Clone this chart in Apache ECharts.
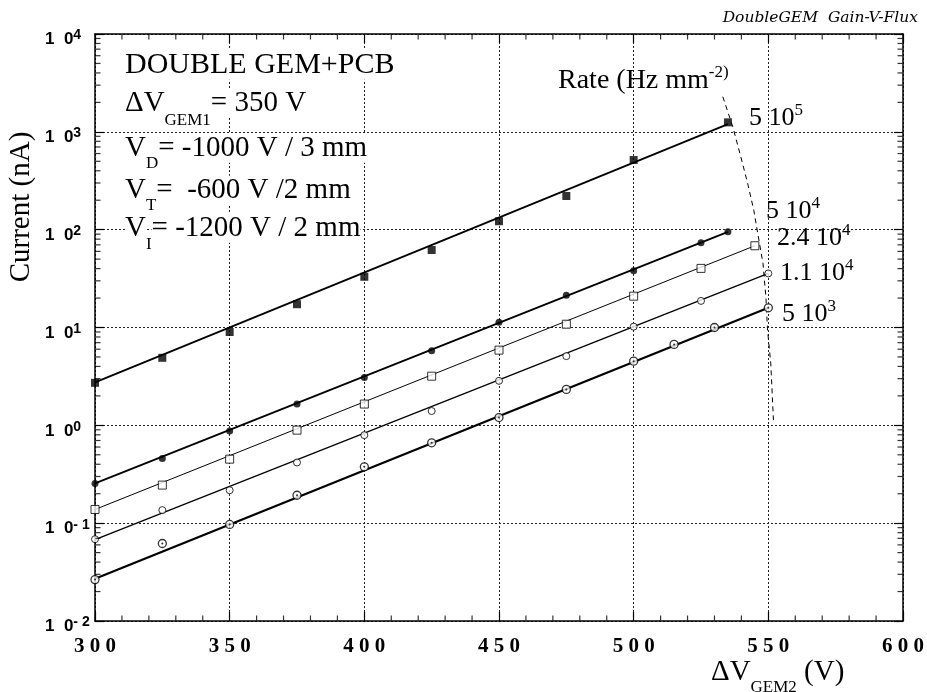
<!DOCTYPE html>
<html>
<head>
<meta charset="utf-8">
<script src="https://cdn.jsdelivr.net/npm/echarts@6/dist/echarts.min.js"></script>
<style>
html,body{margin:0;padding:0;background:#fff;}
#chart{width:927px;height:692px;}
</style>
</head>
<body>
<div id="chart"></div>
<script>
// ---- data ----
const s1X = [300, 325, 350, 375, 400, 425, 450, 475, 500, 535];
const s1Y = [2.72, 4.9, 9.0, 17.3, 33, 62, 122, 221, 515, 1250];
const s2X = [300, 325, 350, 375, 400, 425, 450, 475, 500, 525, 535];
const s2Y = [0.255, 0.458, 0.873, 1.65, 3.09, 5.78, 11.3, 21.3, 38, 73.5, 95];
const s3X = [300, 325, 350, 375, 400, 425, 450, 475, 500, 525, 545];
const s3Y = [0.138, 0.245, 0.451, 0.893, 1.65, 3.18, 5.87, 10.8, 20.9, 40.2, 68.5];
const s4X = [300, 325, 350, 375, 400, 425, 450, 475, 500, 525, 550];
const s4Y = [0.0686, 0.136, 0.217, 0.417, 0.794, 1.40, 2.85, 5.1, 10.2, 18.7, 35.7];
const s5X = [300, 325, 350, 375, 400, 425, 450, 475, 500, 515, 530, 550];
const s5Y = [0.0265, 0.062, 0.097, 0.193, 0.377, 0.663, 1.2, 2.33, 4.53, 6.72, 10.0, 15.9];

// fitted straight lines (end points)
const fit1 = [[300, 2.75], [535, 1200]];
const fit2 = [[300, 0.255], [535, 95]];
const fit3 = [[300, 0.138], [545, 68.5]];
const fit4 = [[300, 0.068], [550, 35.7]];
const fit5 = [[300, 0.027], [550, 15.9]];

// dashed "rate" guide curve
const rateX = [533.1, 536.8, 539.9, 542.3, 544.6, 546.5, 548.0, 549.1, 549.7, 550.9, 551.9];
const rateY = [2285, 1127, 540, 299, 158, 78.3, 45.5, 20.5, 9.4, 4.32, 1.13];

// axis
const xMin = 300, xMax = 600, xStep = 50, xMinorStep = 10;
const yMin = 0.01, yMax = 10000;
const minorMantissas = [2, 3, 4, 5, 6, 7, 8, 9];
const decades = [-2, -1, 0, 1, 2, 3];

const zip = (xs, ys) => xs.map((x, i) => [x, ys[i]]);

// ---- text helpers ----
const mctx = document.createElement('canvas').getContext('2d');
function mk(x, base, parts, bg) {
  const els = [];
  let cx = x;
  for (const p of parts) {
    const [t, size, dy, fam, weight] = p;
    const family = fam || '"Liberation Serif"';
    const font = (weight || 'normal') + ' ' + size + 'px ' + family;
    mctx.font = font;
    const w = mctx.measureText(t).width;
    const style = { text: t, x: cx, y: base + dy - 0.34 * size, font: font, fill: '#000', align: 'left', verticalAlign: 'middle' };
    if (bg) { style.backgroundColor = '#fff'; }
    els.push({ type: 'text', z: 100, silent: true, style: style });
    cx += w;
  }
  return els;
}

const SZ = 29, SUB = 17;
let graphics = [];
graphics = graphics.concat(mk(125, 75, [['DOUBLE GEM+PCB', 30, 0]], true));
graphics = graphics.concat(mk(125, 113, [['\u0394V', SZ, 0], ['GEM1', SUB, 13], ['= 350 V', SZ, 0]], true));
graphics = graphics.concat(mk(125, 158, [['V', SZ, 0], ['D', SUB, 11], ['= -1000 V / 3 mm', SZ, 0]], true));
graphics = graphics.concat(mk(125, 200, [['V', SZ, 0], ['T', SUB, 11], ['=  -600 V /2 mm', SZ, 0]], true));
graphics = graphics.concat(mk(125, 238, [['V', SZ, 0], ['I', SUB, 12], ['= -1200 V / 2 mm', SZ, 0]], true));

graphics = graphics.concat(mk(558, 90, [['Rate (Hz mm', 28, 0], ['-2)', SUB, -12]]));
graphics = graphics.concat(mk(749, 127, [['5 10', 26, 0], ['5', SUB, -11]]));
graphics = graphics.concat(mk(766, 220, [['5 10', 26, 0], ['4', SUB, -11]]));
graphics = graphics.concat(mk(777, 247, [['2.4 10', 26, 0], ['4', SUB, -11]]));
graphics = graphics.concat(mk(780, 282, [['1.1 10', 26, 0], ['4', SUB, -11]]));
graphics = graphics.concat(mk(782, 323, [['5 10', 26, 0], ['3', SUB, -11]]));

// x axis title
graphics = graphics.concat(mk(711, 682, [['\u0394V', 29, 0], ['GEM2', SUB, 11], [' (V)', 29, 0]]));
// y axis title (rotated)
graphics.push({
  type: 'text', z: 100, silent: true, x: 21, y: 207, rotation: Math.PI / 2,
  style: { text: 'Current (nA)', x: 0, y: 0, font: 'normal 29px "Liberation Serif"', fill: '#000', align: 'center', verticalAlign: 'middle' }
});
// top-right tag
graphics.push({
  type: 'text', z: 100, silent: true,
  style: { text: 'DoubleGEM  Gain-V-Flux', x: 918, y: 18, font: 'italic 15.5px "DejaVu Serif"', fill: '#000', align: 'right', verticalAlign: 'middle' }
});

// minor y tick values (log decades)
const minorY = [];
decades.forEach(d => minorMantissas.forEach(m => minorY.push(m * Math.pow(10, d))));
// minor x tick values
const minorX = [];
for (let v = xMin + xMinorStep; v < xMax; v += xMinorStep) {
  if (v % xStep !== 0) minorX.push(v);
}

const gridLine = { show: true, lineStyle: { type: [2, 2], color: '#222', width: 1 } };
const axisLine = { show: true, onZero: false, lineStyle: { color: '#000', width: 1.5 } };
const tickMark = (data, size, offset) => ({
  type: 'scatter', data: data, symbol: 'rect', symbolSize: size, symbolOffset: offset,
  itemStyle: { color: '#000' }, silent: true, clip: false, z: 8
});

const chart = echarts.init(document.getElementById('chart'), null, { renderer: 'canvas' });
const option = {
  animation: false,
  backgroundColor: '#fff',
  grid: { left: 95, right: 19, top: 34, bottom: 71, containLabel: false },
  xAxis: [
    {
      type: 'value', min: xMin, max: xMax, interval: xStep, position: 'bottom',
      axisLine: axisLine,
      axisTick: { show: true, inside: true, length: 9, lineStyle: { color: '#000', width: 1.2 } },
      splitLine: gridLine,
      axisLabel: {
        margin: 15, color: '#000', fontFamily: 'Liberation Serif', fontWeight: 'bold', fontSize: 21,
        formatter: v => String(v).split('').join(' ')
      }
    },
    {
      type: 'value', min: xMin, max: xMax, interval: xStep, position: 'top',
      axisLine: axisLine,
      axisTick: { show: true, inside: true, length: 9, lineStyle: { color: '#000', width: 1.2 } },
      splitLine: { show: false },
      axisLabel: { show: false }
    }
  ],
  yAxis: [
    {
      type: 'log', logBase: 10, min: yMin, max: yMax, position: 'left',
      axisLine: axisLine,
      axisTick: { show: true, inside: true, length: 9, lineStyle: { color: '#000', width: 1.2 } },
      splitLine: gridLine,
      axisLabel: {
        margin: 50, align: 'left', padding: [11, 0, 0, 0], color: '#000',
        formatter: v => {
          const e = Math.round(Math.log10(v));
          const es = e >= 0 ? String(e) : '- ' + String(-e);
          return '{m|1  0}{e|' + es + '}';
        },
        rich: {
          m: { fontFamily: 'Liberation Sans', fontWeight: 'bold', fontSize: 17, lineHeight: 22, color: '#000' },
          e: { fontFamily: 'Liberation Sans', fontWeight: 'bold', fontSize: 14, lineHeight: 16, verticalAlign: 'top', color: '#000' }
        }
      }
    },
    {
      type: 'log', logBase: 10, min: yMin, max: yMax, position: 'right',
      axisLine: axisLine,
      axisTick: { show: true, inside: true, length: 9, lineStyle: { color: '#000', width: 1.2 } },
      splitLine: { show: false },
      axisLabel: { show: false }
    }
  ],
  graphic: graphics,
  series: [
    // minor ticks drawn as tiny marks placed through the axes
    tickMark(minorY.map(v => [xMin, v]), [5, 1.2], [3, 0]),
    tickMark(minorY.map(v => [xMax, v]), [5, 1.2], [-3, 0]),
    tickMark(minorX.map(v => [v, yMin]), [1.2, 5], [0, -3]),
    tickMark(minorX.map(v => [v, yMax]), [1.2, 5], [0, 3]),
    // fit lines
    { type: 'line', data: fit1, symbol: 'none', lineStyle: { color: '#000', width: 1.8 }, silent: true },
    { type: 'line', data: fit2, symbol: 'none', lineStyle: { color: '#000', width: 1.8 }, silent: true },
    { type: 'line', data: fit3, symbol: 'none', lineStyle: { color: '#000', width: 1 }, silent: true },
    { type: 'line', data: fit4, symbol: 'none', lineStyle: { color: '#000', width: 1.3 }, silent: true },
    { type: 'line', data: fit5, symbol: 'none', lineStyle: { color: '#000', width: 2.2 }, silent: true },
    // rate curve
    { type: 'line', data: zip(rateX, rateY), symbol: 'none', smooth: false, lineStyle: { color: '#000', width: 1, type: [5, 4] }, silent: true },
    // points
    { type: 'scatter', data: zip(s1X, s1Y), symbol: 'rect', symbolSize: 8, itemStyle: { color: '#000' }, z: 5 },
    { type: 'scatter', data: zip(s2X, s2Y), symbol: 'circle', symbolSize: 7, itemStyle: { color: '#000' }, z: 5 },
    { type: 'scatter', data: zip(s3X, s3Y), symbol: 'rect', symbolSize: 8, itemStyle: { color: '#fff', borderColor: '#000', borderWidth: 1 }, z: 5 },
    { type: 'scatter', data: zip(s4X, s4Y), symbol: 'circle', symbolSize: 7, itemStyle: { color: '#fff', borderColor: '#000', borderWidth: 1 }, z: 5 },
    { type: 'scatter', data: zip(s5X, s5Y), symbol: 'circle', symbolSize: 8, itemStyle: { color: '#fff', borderColor: '#000', borderWidth: 1.3 }, z: 5 },
    { type: 'scatter', data: zip(s5X, s5Y), symbol: 'circle', symbolSize: 2, itemStyle: { color: '#000' }, z: 6 }
  ]
};
chart.setOption(option);
</script>
</body>
</html>
